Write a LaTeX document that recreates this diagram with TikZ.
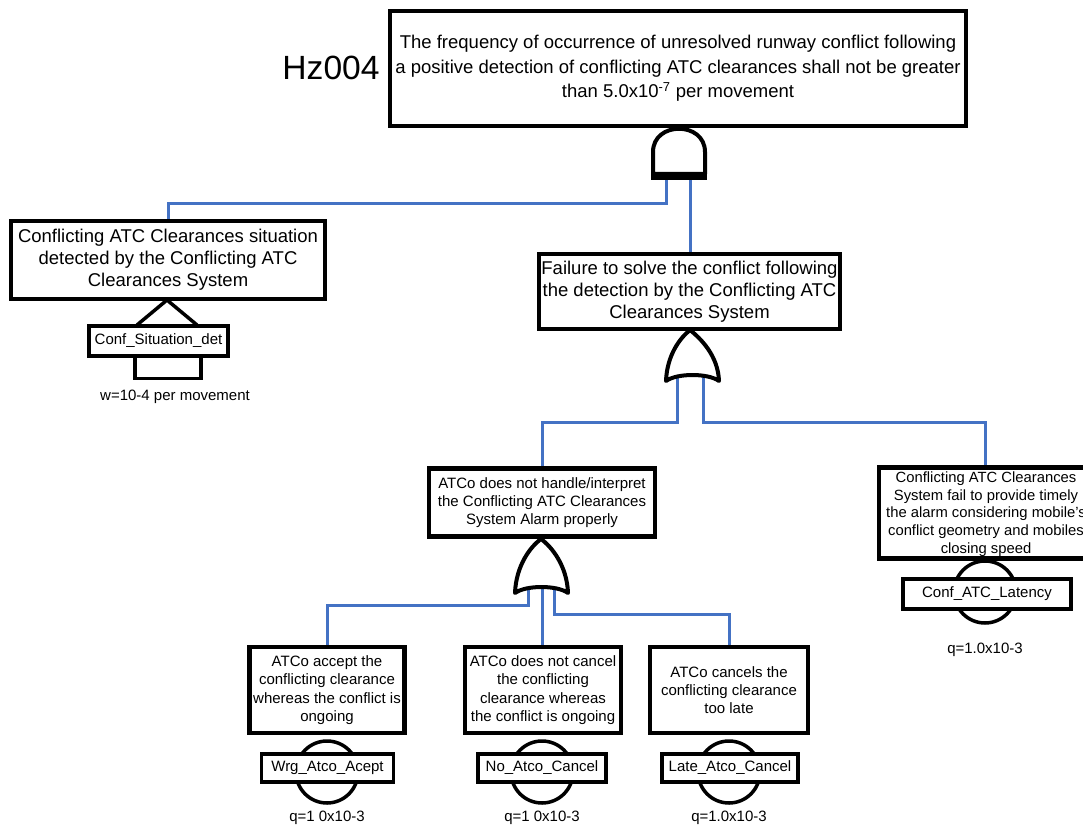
\documentclass[tikz,border=0pt]{standalone}
\usepackage{fontspec}
\setmainfont{Liberation Sans}
\definecolor{wireblue}{HTML}{4472C4}
\pgfdeclarelayer{bg}
\pgfsetlayers{bg,main}
\begin{document}
\begin{tikzpicture}[x=1pt,y=-1pt,
  box/.style={draw=black, line width=4.5pt, fill=white, inner sep=0pt, align=center},
  bigtext/.style={font=\fontsize{18.5}{22}\selectfont},
  smalltext/.style={font=\fontsize{15}{18.3}\selectfont},
  lbl/.style={draw=black, line width=3.5pt, fill=white, inner sep=0pt, align=center, font=\fontsize{15}{18}\selectfont},
  evcirc/.style={circle, draw=black, line width=3.5pt, fill=white, minimum size=62pt, inner sep=0pt},
  wire/.style={draw=wireblue, line width=3pt},
  gate/.style={draw=black, line width=4pt, fill=white, line join=round},
  plain/.style={inner sep=0pt, font=\fontsize{15}{18}\selectfont}
]
\useasboundingbox (0,0) rectangle (1083,829);
\clip (0,0) rectangle (1083,829);

% top event
\node[box, minimum width=576pt, minimum height=115pt, font=\fontsize{18.5}{24.5}\selectfont] (top) at (678,68.5)
  {The frequency of occurrence of unresolved runway conflict following\\
   a positive detection of conflicting ATC clearances shall not be greater\\
   than 5.0x10\textsuperscript{-7} per movement};
\node[inner sep=0pt, font=\fontsize{33.6}{36}\selectfont] (hz) at (331,68) {Hz004};

% AND gate
\path[gate] (653,174) -- (653,152) .. controls (653,121) and (705,121) .. (705,152) -- (705,174) -- cycle;
\draw[line width=8pt] (651,176) -- (707,176);
\coordinate (andL) at (666,178);
\coordinate (andR) at (690.5,178);

% left intermediate
\node[box, bigtext, minimum width=314pt, minimum height=78pt] (n1) at (168,260)
  {Conflicting ATC Clearances situation\\ detected by the Conflicting ATC\\ Clearances System};
\draw[line width=3.5pt, line join=miter] (137,325) -- (167,300) -- (197,325);
\draw[line width=3.5pt] (135,356) -- (135,378.5) -- (201,378.5) -- (201,356);
\node[lbl, minimum width=139pt, minimum height=30pt] (l1) at (158.5,341) {Conf\_Situation\_det};
\node[plain] (w1) at (175,397) {w=10-4 per movement};

% failure node
\node[box, bigtext, minimum width=301pt, minimum height=75pt] (n2) at (689.5,291.5)
  {Failure to solve the conflict following\\ the detection by the Conflicting ATC\\ Clearances System};

% OR gate 1
\path[gate] (666,381) .. controls (667,355) and (680,338) .. (690,330)
  .. controls (700,338) and (718,355) .. (719,381)
  .. controls (708,373) and (677,373) .. (666,381) -- cycle;
\coordinate (or1L) at (677,376);
\coordinate (or1R) at (703,376);

% ATCo handle node
\node[box, smalltext, minimum width=226pt, minimum height=68pt] (n3) at (542,502.5)
  {ATCo does not handle/interpret\\ the Conflicting ATC Clearances\\ System Alarm properly};

% right node
\node[box, minimum width=214pt, minimum height=91pt] (n4) at (986,513) {};
\node[inner sep=0pt, align=center, font=\fontsize{14.8}{17.8}\selectfont] (n4t) at (986,514)
  {Conflicting ATC Clearances\\ System fail to provide timely\\ the alarm considering mobile's\\ conflict geometry and mobiles\\ closing speed};
\node[evcirc] (c4) at (985,592) {};
\node[lbl, minimum width=168pt, minimum height=30pt] (l4) at (987,594) {Conf\_ATC\_Latency};
\node[plain] (q4) at (985,650) {q=1.0x10-3};

% OR gate 2
\path[gate] (515,593) .. controls (516,566) and (530,547) .. (541,539)
  .. controls (552,547) and (567,566) .. (568,593)
  .. controls (557,585) and (526,585) .. (515,593) -- cycle;
\coordinate (or2L) at (528,588);
\coordinate (or2M) at (542,588);
\coordinate (or2R) at (554,588);

% bottom nodes
\node[box, smalltext, minimum width=155pt, minimum height=86pt] (b1) at (327,690)
  {ATCo accept the\\ conflicting clearance\\ whereas the conflict is\\ ongoing};
\node[box, smalltext, minimum width=156pt, minimum height=86pt] (b2) at (543,690)
  {ATCo does not cancel\\ the conflicting\\ clearance whereas\\ the conflict is ongoing};
\node[box, smalltext, minimum width=158pt, minimum height=86pt] (b3) at (729,690)
  {ATCo cancels the\\ conflicting clearance\\ too late};

\node[evcirc] (c1) at (327,772) {};
\node[evcirc] (c2) at (542,772) {};
\node[evcirc] (c3) at (729,772) {};
\node[lbl, minimum width=132pt, minimum height=28pt] (l1b) at (327.5,768) {Wrg\_Atco\_Acept};
\node[lbl, minimum width=128pt, minimum height=28pt] (l2b) at (542,768) {No\_Atco\_Cancel};
\node[lbl, minimum width=136pt, minimum height=28pt] (l3b) at (730,768) {Late\_Atco\_Cancel};
\node[plain] (q1) at (327,818) {q=1 0x10-3};
\node[plain] (q2) at (542,818) {q=1 0x10-3};
\node[plain] (q3) at (729,818) {q=1.0x10-3};

% connectors
\begin{pgfonlayer}{bg}
\draw[wire] (andL) -- ++(0,25) -| (n1.north);
\draw[wire] (andR) -- (andR |- n2.north);
\draw[wire] (or1L) -- ++(0,46) -| (n3.north);
\draw[wire] (or1R) -- ++(0,46) -| ([xshift=-1pt]n4.north);
\draw[wire] (or2L) -- ++(0,17) -| (b1.north);
\draw[wire] (or2M) -- (or2M |- b2.north);
\draw[wire] (or2R) -- ++(0,26) -| (b3.north);
\end{pgfonlayer}
\end{tikzpicture}
\end{document}
